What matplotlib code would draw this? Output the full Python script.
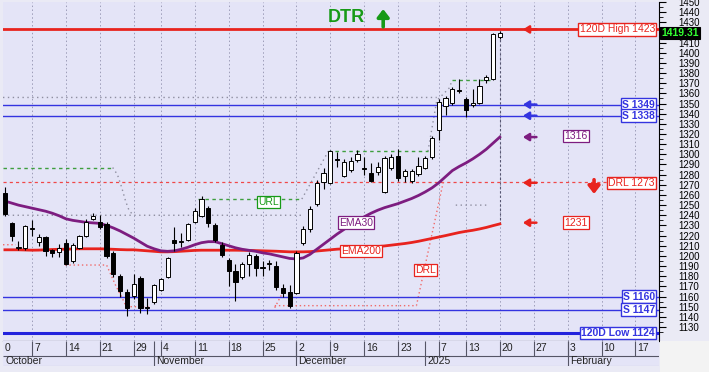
import numpy as np
import matplotlib.pyplot as plt
from matplotlib.patches import Rectangle
import matplotlib.transforms as mtransforms

plt.rcParams['font.family'] = ['Liberation Sans', 'DejaVu Sans']

# trading day index: 1 = 1 Oct 2024 ... 74 = 20 Jan 2025
day = np.arange(1, 75)
op = np.array([1262, 1232, 1208, 1208, 1226, 1214, 1219, 1206, 1204, 1213,
               1195, 1208, 1220, 1236, 1233, 1231, 1203, 1180, 1164, 1161,
               1178, 1150, 1155, 1166, 1179, 1216, 1214, 1216, 1233, 1239,
               1247, 1230, 1211, 1196, 1185, 1179, 1192, 1200, 1189, 1192,
               1190, 1168, 1164, 1163, 1213, 1226, 1251, 1273, 1272, 1295,
               1279, 1285, 1294, 1287, 1282, 1283, 1263, 1287, 1298, 1279,
               1274, 1281, 1287, 1297, 1324, 1348, 1351, 1363, 1354, 1349,
               1351, 1373, 1374, 1416])
hi = np.array([1268, 1233, 1215, 1230, 1235, 1222, 1220, 1207, 1212, 1217,
               1213, 1221, 1236, 1242, 1240, 1233, 1205, 1182, 1167, 1182,
               1180, 1159, 1172, 1178, 1199, 1228, 1223, 1232, 1247, 1259,
               1249, 1232, 1214, 1198, 1192, 1194, 1204, 1202, 1195, 1196,
               1195, 1172, 1171, 1205, 1229, 1249, 1275, 1287, 1304, 1302,
               1295, 1297, 1304, 1297, 1291, 1292, 1298, 1300, 1305, 1286,
               1286, 1297, 1298, 1318, 1354, 1357, 1366, 1374, 1356, 1364,
               1374, 1378, 1419, 1421])
lo = np.array([1239, 1215, 1206, 1206, 1220, 1210, 1200, 1199, 1199, 1191,
               1193, 1207, 1219, 1235, 1226, 1198, 1179, 1160, 1141, 1158,
               1144, 1143, 1153, 1165, 1178, 1205, 1209, 1215, 1232, 1238,
               1228, 1214, 1199, 1170, 1156, 1177, 1180, 1180, 1180, 1186,
               1166, 1160, 1149, 1162, 1211, 1224, 1249, 1266, 1271, 1288,
               1278, 1283, 1292, 1280, 1273, 1280, 1262, 1285, 1274, 1273,
               1272, 1279, 1286, 1295, 1314, 1339, 1349, 1360, 1337, 1347,
               1350, 1370, 1373, 1414])
cl = np.array([1241, 1220, 1209, 1229, 1227, 1219, 1205, 1203, 1208, 1192,
               1211, 1220, 1233, 1239, 1228, 1200, 1182, 1165, 1149, 1172,
               1149, 1149, 1171, 1177, 1198, 1213, 1215, 1231, 1244, 1256,
               1232, 1216, 1201, 1185, 1174, 1192, 1201, 1188, 1188, 1193,
               1169, 1163, 1151, 1203, 1226, 1246, 1272, 1282, 1303, 1294,
               1292, 1293, 1300, 1286, 1274, 1288, 1296, 1297, 1277, 1284,
               1284, 1289, 1296, 1316, 1352, 1355, 1364, 1362, 1344, 1351,
               1367, 1376, 1418, 1419.31])

ema30 = [1254, 1252, 1250, 1248.5, 1247, 1245.5, 1244, 1242, 1239.5, 1236.5,
         1235, 1234, 1233, 1232.5, 1232, 1230, 1227.5, 1224.5, 1221, 1217.5,
         1213.5, 1209.5, 1207, 1205, 1204.5, 1205, 1206.5, 1208.5, 1211, 1213,
         1214, 1214, 1212, 1210, 1208, 1206.5, 1205.5, 1204.5, 1203, 1202,
         1200.5, 1199, 1197.5, 1197, 1198, 1201.5, 1206.5, 1211.5, 1216.5, 1221.5,
         1226, 1230.5, 1234.5, 1238.5, 1242, 1245, 1247.5, 1249.5, 1251.5, 1254,
         1256.5, 1259.5, 1263, 1267, 1272, 1278, 1284, 1288, 1291.5, 1295.5,
         1300, 1305, 1311, 1317]
ema200 = [1206, 1206, 1206, 1205.8, 1205.6, 1205.7, 1206, 1206.3, 1206.5, 1206.6,
          1206.8, 1207, 1207, 1207, 1207, 1206.8, 1206.5, 1206.2, 1206, 1206,
          1205.5, 1205, 1204.5, 1204, 1204, 1204.2, 1204.6, 1205, 1205.4, 1205.6,
          1205.6, 1205.6, 1205.6, 1205.6, 1205.6, 1205.5, 1205.4, 1205.2, 1205, 1204.8,
          1204.6, 1204.3, 1204, 1204, 1204, 1204.2, 1204.8, 1205.4, 1206, 1206.6,
          1207, 1207.4, 1207.8, 1208, 1208.6, 1209.2, 1209.8, 1210.6, 1211.4, 1212.2,
          1213.2, 1214.4, 1215.8, 1217.2, 1218.6, 1220, 1221.5, 1223, 1224.2, 1225.2,
          1226.5, 1228, 1229.8, 1231.5]

# reversal levels (nan = break)
nan = np.nan
url_x = [0.72, 16.9, nan, 29.5, 44.8, nan, 48.7, 63.4, nan, 67.0, 72.5]
url_y = [1287, 1287, nan, 1256, 1256, nan, 1303, 1303, nan, 1373, 1373]
trail_x = [0.72, 45.0, nan, 16.9, 17.6, 18.2, 18.8, 19.3, 19.8, nan, 44.8, 48.7,
           nan, 0.72, 64.7, nan, 63.4, 64.7, 66.5, 67.0, nan, 67.5, 72.5]
trail_y = [1240, 1240, nan, 1287, 1280, 1268, 1254, 1245, 1241, nan, 1256, 1303,
           nan, 1356, 1356, nan, 1303, 1353, 1365, 1373, nan, 1250, 1250]
drl_x = [0.72, 2.6, nan, 9.9, 16.0, 17.4, 18.2, 18.9, 22.3, nan, 40.8, 42.3,
         nan, 40.8, 61.7, 65.7]
drl_y = [1211, 1211, nan, 1191, 1191, 1170, 1160, 1150, 1150, nan, 1149, 1168,
         nan, 1151, 1151, 1274]
drl_level = 1273

levels = [1423, 1349, 1338, 1160, 1147, 1124]
level_text = ["120D High 1423", "S 1349", "S 1338", "S 1160", "S 1147", "120D Low 1124"]
last_price = "1419.31"

# date row
week_pos = [0, 5, 10, 15, 20, 24, 29, 34, 39, 44, 49, 54, 59, 65, 69, 74, 79, 84, 89, 94]
week_lab = ["0", "7", "14", "21", "29", "4", "11", "18", "25", "2", "9", "16", "23",
            "7", "13", "20", "27", "3", "10", "17"]
month_pos = [0.8, 23, 44, 63, 84]
month_lab = ["October", "November", "December", "2025", "February"]

RED = '#E8231E'
BLUE = '#3434E0'
PURPLE = '#7D1D80'
GREEN = '#179A17'
BG = '#E4E4F7'

W, H = 709, 372
fig = plt.figure(figsize=(W / 100, H / 100), dpi=100)
fig.patch.set_facecolor('#EAEAF5')
fig.patches.append(Rectangle((660 / W, 0), 49 / W, 31 / H, transform=fig.transFigure,
                             fc='#F3F3F3', ec='none'))

ax = fig.add_axes([3 / W, (H - 341) / H, 656 / W, 339 / H])
ax.set_facecolor(BG)
x0, x1 = 0.72, 97.48
ax.set_xlim(x0, x1)
ax.set_ylim(1116.2, 1448.3)
for s in ['left', 'top']:
    ax.spines[s].set_visible(False)
ax.spines['right'].set_linewidth(0.8)
ax.spines['bottom'].set_linewidth(0.8)
ax.set_xticks([])
ax.yaxis.tick_right()
yt = np.arange(1130, 1451, 10)
ax.set_yticks(yt)
# the 1420 label sits under the last-price box
ax.set_yticklabels(['' if v == 1420 else str(v) for v in yt])
ax.set_yticks(np.arange(1125, 1451, 5), minor=True)
ax.tick_params(axis='y', which='major', length=5, width=0.8, pad=9, labelsize=7)
ax.tick_params(axis='y', which='minor', length=3, width=0.6)

# weekly grid
for p in week_pos:
    if p > x0:
        ax.axvline(p, color='#9C9CB8', ls=(0, (1.5, 2.5)), lw=0.7, zorder=1)
ax.vlines(74, 1231, 1421, color='#555570', ls=(0, (2, 2)), lw=0.8, zorder=2)

# level lines
ax.axhline(levels[0], color=RED, lw=2, zorder=3)
for v in levels[1:5]:
    ax.axhline(v, color=BLUE, lw=1, zorder=3)
ax.axhline(levels[5], color='#2222DD', lw=2.2, zorder=3)
ax.axhline(drl_level, color='#F04848', ls=(0, (2.5, 2.5)), lw=0.9, zorder=2)

ax.plot(trail_x, trail_y, color='#8E8EA0', ls=(0, (1, 2.5)), lw=1, zorder=2)
ax.plot(url_x, url_y, color='#3E9E3E', ls=(0, (2.5, 2.5)), lw=1, zorder=2)
ax.plot(drl_x, drl_y, color='#F06A6A', ls=(0, (1, 2)), lw=1, zorder=2)

ax.plot(day, ema200, color=RED, lw=2, zorder=3)
ax.plot(day, ema30, color=PURPLE, lw=2, zorder=3)

# candles
up = cl >= op
body_lo = np.minimum(op, cl)
body_h = np.maximum(np.abs(cl - op), 0.7)
ax.vlines(day, lo, hi, color='black', lw=0.8, zorder=4)
ax.bar(day, body_h, bottom=body_lo, width=0.62, color=np.where(up, 'white', 'black'),
       edgecolor='black', lw=0.7, zorder=5)

# right-hand level labels
tr = mtransforms.blended_transform_factory(ax.transAxes, ax.transData)
box_labels = [(level_text[0], levels[0], RED, 'normal'),
              (level_text[1], levels[1], BLUE, 'bold'),
              (level_text[2], levels[2], BLUE, 'bold'),
              ("DRL 1273", 1272, RED, 'normal'),
              (level_text[3], levels[3], BLUE, 'bold'),
              (level_text[4], levels[4], BLUE, 'bold'),
              (level_text[5], levels[5], BLUE, 'bold')]
for txt, v, c, w in box_labels:
    ax.text(0.9939, v, txt, transform=tr, ha='right', va='center', fontsize=7.5,
            color=c, fontweight=w, zorder=8,
            bbox=dict(boxstyle='square,pad=0.12', fc='white', ec=c, lw=1))

ax.text(1.003, 1419.31, last_price, transform=tr, ha='left', va='center', fontsize=7.5,
        color='#33FF33', fontweight='bold', zorder=9, clip_on=False,
        bbox=dict(boxstyle='square,pad=0.12', fc='black', ec='black', lw=0.8))

# in-chart labels
def tag(x, y, txt, c):
    ax.text(x, y, txt, ha='center', va='center', fontsize=7.5, color=c, zorder=8,
            bbox=dict(boxstyle='square,pad=0.12', fc='white', ec=c, lw=0.9))

tag(85.2, 1318, "1316", PURPLE)
tag(85.2, 1232.7, "1231", RED)
tag(52.8, 1232.7, "EMA30", PURPLE)
tag(53.5, 1204.8, "EMA200", RED)
tag(39.9, 1253.3, "URL", GREEN)
tag(63.0, 1186.2, "DRL", RED)

# small arrows pointing at the levels
for v, c in [(1423, RED), (1349, BLUE), (1338, BLUE), (1317, PURPLE), (1272, RED), (1232.7, RED)]:
    ax.annotate('', xy=(77.4, v), xytext=(79.4, v),
                arrowprops=dict(arrowstyle='-|>,head_length=0.35,head_width=0.22',
                                color=c, lw=1.8, shrinkA=0, shrinkB=0), zorder=8)
ax.annotate('', xy=(87.9, 1261), xytext=(87.9, 1275),
            arrowprops=dict(arrowstyle='-|>,head_length=0.45,head_width=0.35',
                            color=RED, lw=2.6, shrinkA=0, shrinkB=0), zorder=8)

ax.text(51.4, 1434.6, "DTR", ha='center', va='center', fontsize=13, fontweight='bold',
        color=GREEN, zorder=8)
ax.annotate('', xy=(56.8, 1443), xytext=(56.8, 1425.5),
            arrowprops=dict(arrowstyle='-|>,head_length=0.45,head_width=0.35',
                            color=GREEN, lw=2.6, shrinkA=0, shrinkB=0), zorder=8)

# date axis
axd = fig.add_axes([3 / W, (H - 366) / H, 656 / W, 25 / H])
axd.set_facecolor(BG)
axd.set_xlim(x0, x1)
axd.set_ylim(25, 0)
axd.set_xticks([])
axd.set_yticks([])
for s in axd.spines.values():
    s.set_visible(False)
axd.hlines(15, x0, x1, color='#555566', lw=0.8)
axd.hlines(24.6, x0, x1, color='#B8B8C8', lw=0.8)
for p, t in zip(week_pos, week_lab):
    if p > x0:
        axd.vlines(p, 0, 15, color='#555566', lw=0.8)
    axd.text(max(p, x0) + 0.3, 7.3, t, ha='left', va='center', fontsize=7.5, color='#222222')
for p, t in zip(month_pos, month_lab):
    if p > x0 + 0.2:
        axd.vlines(p, 0, 25, color='#555566', lw=0.8)
    axd.text(p + 0.3, 20, t, ha='left', va='center', fontsize=7.5, color='#222222')

fig.savefig('out.png', dpi=100, facecolor=fig.get_facecolor())
